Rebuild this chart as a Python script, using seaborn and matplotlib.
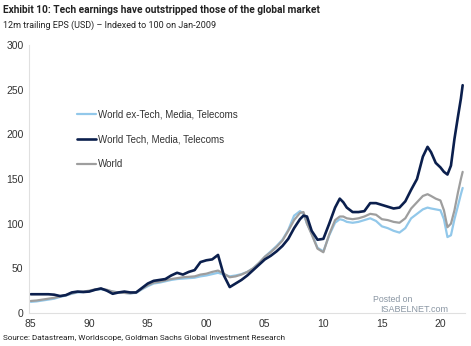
import matplotlib
matplotlib.use("Agg")
import matplotlib.pyplot as plt
import seaborn as sns
import pandas as pd

years = [1985.0, 1985.5, 1986.0, 1986.5, 1987.0, 1987.5, 1988.0, 1988.5, 1989.0, 1989.5,
         1990.0, 1990.5, 1991.0, 1991.5, 1992.0, 1992.5, 1993.0, 1993.5, 1994.0, 1994.5,
         1995.0, 1995.5, 1996.0, 1996.5, 1997.0, 1997.5, 1998.0, 1998.5, 1999.0, 1999.5,
         2000.0, 2000.5, 2001.0, 2001.5, 2002.0, 2002.5, 2003.0, 2003.5, 2004.0, 2004.5,
         2005.0, 2005.5, 2006.0, 2006.5, 2007.0, 2007.5, 2008.0, 2008.3, 2008.6, 2009.0,
         2009.5, 2010.0, 2010.5, 2011.0, 2011.4, 2011.7, 2012.0, 2012.5, 2013.0, 2013.5,
         2014.0, 2014.5, 2015.0, 2015.5, 2016.0, 2016.5, 2017.0, 2017.5, 2018.0, 2018.5,
         2018.9, 2019.2, 2019.6, 2020.0, 2020.3, 2020.6, 2020.9, 2021.2, 2021.5, 2021.75,
         2021.9]

world_ex_tmt = [12.5, 13, 14, 15, 16, 18, 19.5, 21.5, 23, 23.5,
                24.5, 26, 26.5, 25.5, 24, 23, 22.5, 22, 22.5, 26.5,
                30, 33, 34, 35.5, 37, 38, 38.5, 39, 39.5, 41,
                42, 43.5, 45, 43, 41, 42, 43.5, 46, 50, 56,
                63, 69, 75, 82, 93, 109, 114, 111, 100, 89,
                73, 69, 87, 101, 105, 104, 102, 101, 102, 104,
                106, 103, 97, 95, 92, 90, 95, 106, 111, 116,
                118, 117, 116, 115, 105, 85, 87, 105, 120, 133,
                140]

world_tmt = [21, 21, 21, 21, 20.5, 19, 20, 23, 24, 23.5,
             24, 26, 27.5, 25, 21.5, 23, 24, 23, 23, 28,
             33, 36, 37, 38, 42, 45, 43, 46, 48, 57,
             59, 60, 65, 42, 29, 33, 37, 42, 48, 54,
             60, 64, 69, 75, 83, 95, 105, 109, 108, 92,
             82, 83, 100, 118, 128, 124, 118, 113, 113, 114,
             123, 123, 121, 119, 117, 118, 125, 138, 150, 175,
             186, 180, 168, 163, 158, 155, 165, 195, 220, 240,
             255]

world = [13.5, 14, 15, 16, 17, 18.5, 20, 22, 23.5, 24,
         25, 26.5, 27, 26, 24, 23, 22.5, 22, 23, 27,
         31, 34, 35, 36.5, 38, 39, 40, 40.5, 41, 43,
         44, 46, 47.5, 44, 40, 41, 43, 46, 50, 56,
         63, 68, 74, 81, 92, 104, 112, 113, 100, 88,
         72, 68, 88, 104, 108, 108, 106, 105, 106, 108,
         111, 110, 105, 104, 102, 101, 106, 117, 124, 131,
         133, 131, 128, 126, 115, 96, 100, 115, 135, 150,
         158]

series_names = ["World ex-Tech, Media, Telecoms", "World Tech, Media, Telecoms", "World"]
colors = ["#92c8ea", "#0b1f4d", "#9e9e9e"]

df = pd.concat([
    pd.DataFrame({"year": years, "value": world_ex_tmt, "series": series_names[0]}),
    pd.DataFrame({"year": years, "value": world_tmt, "series": series_names[1]}),
    pd.DataFrame({"year": years, "value": world, "series": series_names[2]}),
], ignore_index=True)

xtick_pos = [1985, 1990, 1995, 2000, 2005, 2010, 2015, 2020]
xtick_labels = ["85", "90", "95", "00", "05", "10", "15", "20"]
ytick_pos = [0, 50, 100, 150, 200, 250, 300]

sns.set_theme(style="white")
plt.rcParams["font.family"] = ["Liberation Sans", "DejaVu Sans"]

fig = plt.figure(figsize=(4.71, 3.46), dpi=100)
ax = fig.add_axes([29 / 471, 1 - 313 / 346, 436 / 471, 268 / 346])

order = [series_names[0], series_names[2], series_names[1]]
lw = {series_names[0]: 1.6, series_names[1]: 1.9, series_names[2]: 1.6}
for name in order:
    sub = df[df["series"] == name]
    sns.lineplot(data=sub, x="year", y="value", ax=ax, color=colors[series_names.index(name)],
                 linewidth=lw[name], label=name, legend=False)

ax.set_xlim(1984.85, 2022.1)
ax.set_ylim(0, 300)
ax.set_xticks(xtick_pos)
ax.set_xticklabels(xtick_labels)
ax.set_yticks(ytick_pos)
ax.set_xlabel("")
ax.set_ylabel("")
ax.tick_params(axis="both", labelsize=7.5, colors="#333333", length=0, pad=4)
for s in ["top", "right"]:
    ax.spines[s].set_visible(False)
for s in ["left", "bottom"]:
    ax.spines[s].set_color("#e0e0e0")
    ax.spines[s].set_linewidth(0.8)

handles = {h.get_label(): h for h in ax.get_lines()}
leg = ax.legend([handles[n] for n in series_names], series_names, loc="center left",
                bbox_to_anchor=(0.11, 0.648), frameon=False, fontsize=7.0,
                handlelength=2.0, handletextpad=0.15, labelspacing=1.5,
                borderpad=0, borderaxespad=0)
for t in leg.get_texts():
    t.set_color("#333333")

renderer = fig.canvas.get_renderer()


def fitted_text(x, y, s, target_w, size, **kw):
    t = fig.text(x / 471, 1 - y / 346, s, fontsize=size, va="center", ha="left",
                 family="Roboto", **kw)
    w = t.get_window_extent(renderer).width
    t.set_fontsize(size * target_w / w)
    return t


fitted_text(3, 10, "Exhibit 10: Tech earnings have outstripped those of the global market",
            318, 9, fontweight="bold", color="#222222")
fitted_text(3, 25, "12m trailing EPS (USD) \u2013 Indexed to 100 on Jan-2009",
            215, 8, color="#222222")
fitted_text(3, 338, "Source: Datastream, Worldscope, Goldman Sachs Global Investment Research",
            285, 8, color="#222222")
fig.text(373 / 471, 1 - 300 / 346, "Posted on", fontsize=6.3, color="#8a96a3", va="center", ha="left")
fig.text(380 / 471, 1 - 309 / 346, "ISABELNET.com", fontsize=6.5, color="#8a96a3", va="center", ha="left")

fig.savefig("out.png", dpi=100)
